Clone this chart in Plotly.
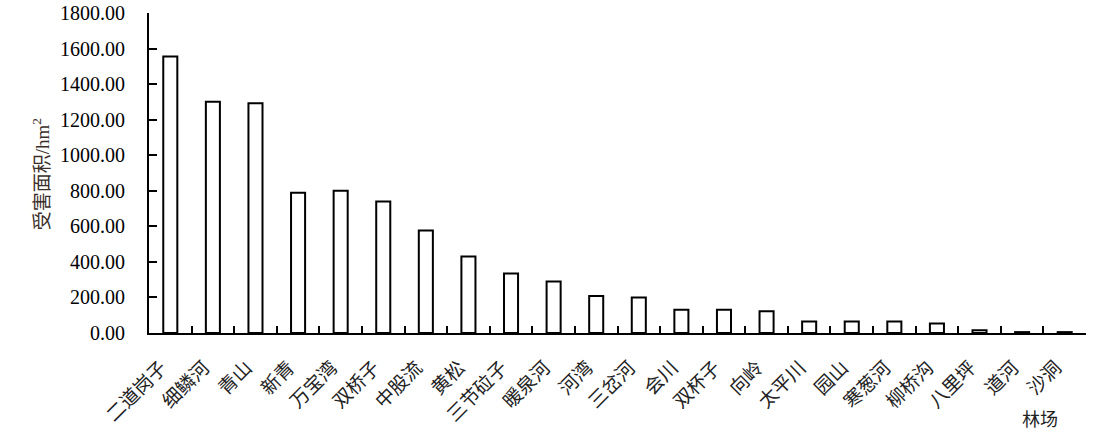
import plotly.graph_objects as go

farms = ['二道岗子', '细鳞河', '青山', '新青', '万宝湾', '双桥子', '中股流', '黄松',
         '三节砬子', '暖泉河', '河湾', '三岔河', '会川', '双杯子', '向岭', '太平川',
         '园山', '寒葱河', '柳桥沟', '八里坪', '道河', '沙洞']
area = [1556, 1301, 1292, 789, 800, 740, 576, 430, 334, 289, 208, 199,
        131, 131, 122, 65, 65, 65, 54, 15, 5, 5]

serif = "Times New Roman, Liberation Serif, serif"
cjk = "Liberation Serif, Noto Sans CJK SC"

fig = go.Figure()
fig.add_trace(go.Bar(x=farms, y=area, width=0.33,
                     marker=dict(color='white', line=dict(color='black', width=2))))

fig.update_layout(
    width=1097, height=446,
    margin=dict(l=149, r=11, t=13, b=113, autoexpand=False),
    plot_bgcolor='white', paper_bgcolor='white',
    showlegend=False,
    font=dict(family=cjk, size=18, color='black'),
)
fig.update_xaxes(type='category', range=[-0.5, 21.5], automargin=False,
                 showline=True, linecolor='black', linewidth=2,
                 ticks='inside', tickson='boundaries', ticklen=7, tickwidth=2, tickcolor='black',
                 tickangle=-45, tickfont=dict(family=cjk, size=19, color='#222'),
                 ticklabelstandoff=14, ticklabelshift=-9, ticklabeloverflow='allow',
                 showgrid=False)
fig.update_yaxes(range=[0, 1800], dtick=200, tickformat='.2f', automargin=False,
                 showline=True, linecolor='black', linewidth=2,
                 ticks='inside', ticklen=8, tickwidth=2, tickcolor='black',
                 tickfont=dict(family=serif, size=20, color='black'),
                 ticklabelstandoff=18, ticklabeloverflow='allow',
                 showgrid=False, zeroline=False)

# axis titles
fig.add_annotation(text='受害面积/hm<sup>2</sup>', xref='paper', yref='paper',
                   x=-0.115, y=0.497, xanchor='center', yanchor='middle',
                   textangle=-90, showarrow=False,
                   font=dict(family=cjk, size=19, color='#3a2e28'))
fig.add_annotation(text='林场', xref='paper', yref='paper',
                   x=0.951, y=-0.272, xanchor='center', yanchor='middle',
                   showarrow=False,
                   font=dict(family=cjk, size=18, color='#222'))

# drop the default 8px page margin so the figure sits at the window corner
fig.write_html("out.html", config={'displayModeBar': False},
               post_script="document.body.style.margin='0';")
